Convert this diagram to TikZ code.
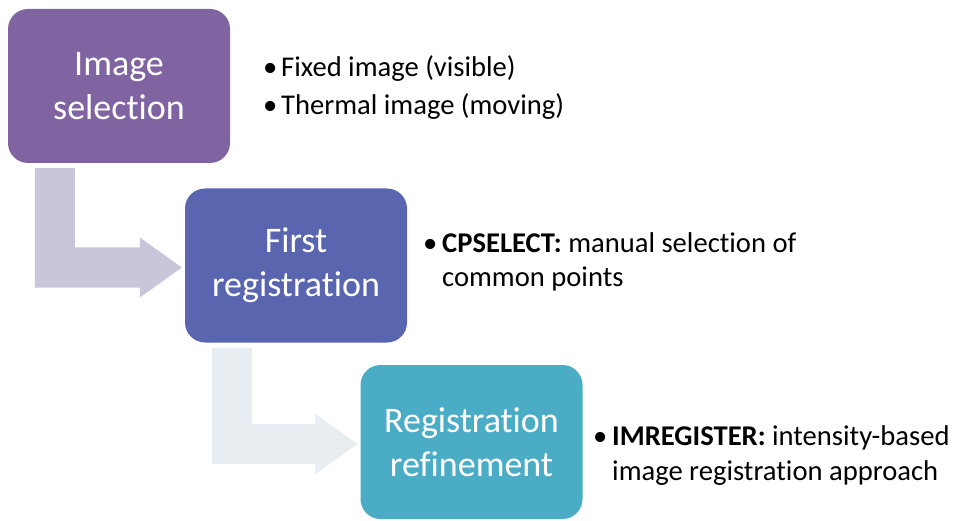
\documentclass[tikz,border=0pt]{standalone}
\usepackage{fontspec}
\setmainfont{Carlito}[Ligatures={NoCommon,NoContextual}]
\usetikzlibrary{calc}
\definecolor{selcol}{HTML}{8064A2}
\definecolor{firstcol}{HTML}{5A65B0}
\definecolor{refcol}{HTML}{4BACC6}
\definecolor{flowa}{HTML}{C9C6D9}
\definecolor{flowb}{HTML}{E8EDF1}
\begin{document}
\begin{tikzpicture}[
    x=1pt, y=-1pt,
    stage/.style={rounded corners=20pt, minimum width=222pt, minimum height=154pt, inner sep=0pt,
        align=center, text=white, font=\fontsize{36}{44}\selectfont},
    notes/.style={anchor=base west, inner sep=0pt, align=left, font=\fontsize{28.6}{35}\selectfont}
]
\useasboundingbox (0,0) rectangle (963,521);

\node[stage, fill=selcol] (sel) at (119,86) {Image\\selection};
\node[stage, fill=firstcol] (first) at (296,265.5) {First\\registration};
\node[stage, fill=refcol] (refine) at (471.5,442) {Registration\\refinement};

% bent block arrows between the stages
\fill[flowa] let \p1=(sel.south west), \p2=(first.west) in
    (\x1+27pt,\y1-5pt) -- (\x1+67pt,\y1-5pt) -- (\x1+67pt,\y2+18pt)
    -- (\x2-45pt,\y2+18pt) -- (\x2-45pt,\y2+28pt) -- (\x2-3pt,\y2-2pt)
    -- (\x2-45pt,\y2-32pt) -- (\x2-45pt,\y2-22pt) -- (\x1+27pt,\y2-22pt) -- cycle;
\fill[flowb] let \p1=(first.south west), \p2=(refine.west) in
    (\x1+27pt,\y1-5pt) -- (\x1+67pt,\y1-5pt) -- (\x1+67pt,\y2+18pt)
    -- (\x2-45pt,\y2+18pt) -- (\x2-45pt,\y2+28pt) -- (\x2-3pt,\y2-2pt)
    -- (\x2-45pt,\y2-32pt) -- (\x2-45pt,\y2-22pt) -- (\x1+27pt,\y2-22pt) -- cycle;

% notes: the base anchor sits on the last line
\node[notes] (selnotes) at (263,115) {\makebox[18pt][l]{•}Fixed image (visible)\\[3pt]
    \makebox[18pt][l]{•}Thermal image (moving)};
\node[notes] (firstnotes) at (423,287) {\makebox[19pt][l]{•}\textbf{CPSELECT:} manual selection of\\
    \hspace*{19pt}common points};
\node[notes] (refnotes) at (593,480) {\makebox[19pt][l]{•}\textbf{IMREGISTER:} intensity-based\\
    \hspace*{19pt}image registration approach};
\end{tikzpicture}
\end{document}
